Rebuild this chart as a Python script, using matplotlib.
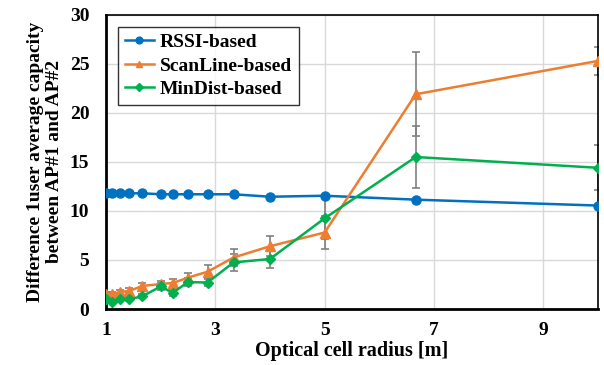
import numpy as np
import matplotlib
matplotlib.use('Agg')
import matplotlib.pyplot as plt

plt.rcParams['font.family'] = ['Liberation Serif', 'DejaVu Serif']
plt.rcParams['font.weight'] = 'bold'

# optical cell radius
radius = [1.0, 1.111, 1.25, 1.429, 1.667, 2.0, 2.222, 2.5, 2.857, 3.333, 4.0, 5.0, 6.667, 10.0]

rssi = [11.8, 11.8, 11.8, 11.8, 11.8, 11.7, 11.7, 11.7, 11.7, 11.7, 11.45, 11.55, 11.15, 10.55]

scanline = [1.5, 1.5, 1.73, 1.85, 2.35, 2.55, 2.65, 3.2, 3.8, 5.25, 6.4, 7.8, 21.9, 25.3]
scanline_err = [0.2, 0.2, 0.25, 0.25, 0.35, 0.3, 0.4, 0.5, 0.65, 0.9, 1.0, 1.7, 4.3, 1.4]

mindist = [1.0, 0.75, 1.0, 1.0, 1.3, 2.3, 1.65, 2.75, 2.7, 4.75, 5.1, 9.25, 15.5, 14.4]
mindist_err = [0.15, 0.15, 0.15, 0.15, 0.2, 0.35, 0.35, 0.4, 0.4, 0.85, 0.9, 2.1, 3.2, 2.3]

fig = plt.figure(figsize=(6.04, 3.65), dpi=100)
ax = fig.add_axes([0.1755, 0.1534, 0.8145, 0.806])

# error bars first (gray), lines on top
ax.errorbar(radius, scanline, yerr=scanline_err, fmt='none', ecolor='#808080',
            elinewidth=1.2, capsize=3, capthick=1.2, zorder=2)
ax.errorbar(radius, mindist, yerr=mindist_err, fmt='none', ecolor='#808080',
            elinewidth=1.2, capsize=3, capthick=1.2, zorder=2)

ax.plot(radius, rssi, color='#0070C0', marker='o', markersize=6.5, linewidth=1.8,
        label='RSSI-based', zorder=3)
ax.plot(radius, scanline, color='#ED7D31', marker='^', markersize=6.5, linewidth=1.8,
        label='ScanLine-based', zorder=3)
ax.plot(radius, mindist, color='#00B050', marker='D', markersize=5, linewidth=1.8,
        label='MinDist-based', zorder=3)

ax.set_xlim(1, 10)
ax.set_ylim(0, 30)
ax.set_xticks([1, 3, 5, 7, 9])
ax.set_yticks([0, 5, 10, 15, 20, 25, 30])
ax.grid(True, color='#d9d9d9', linewidth=1.0, zorder=0)
ax.set_axisbelow(True)
ax.tick_params(axis='y', length=0, labelsize=14, pad=12)
ax.tick_params(axis='x', length=0, labelsize=14, pad=9)

for s in ['left', 'bottom']:
    ax.spines[s].set_linewidth(2.0)
for s in ['top', 'right']:
    ax.spines[s].set_linewidth(1.2)

ax.set_xlabel('Optical cell radius [m]', fontsize=14.5, fontweight='bold', labelpad=2)
ax.set_ylabel('Difference 1user average capacity\nbetween AP#1 and AP#2',
              fontsize=14, fontweight='bold', labelpad=5, linespacing=1.1)

leg = ax.legend(loc='upper left', bbox_to_anchor=(0.024, 0.959), borderaxespad=0,
                frameon=True, fancybox=False, edgecolor='black',
                handlelength=1.5, handletextpad=0.3, borderpad=0.35, labelspacing=0.3,
                markerscale=0.75, prop={'weight': 'bold', 'size': 14})
leg.get_frame().set_linewidth(1.0)

fig.savefig('out.png', dpi=100)
